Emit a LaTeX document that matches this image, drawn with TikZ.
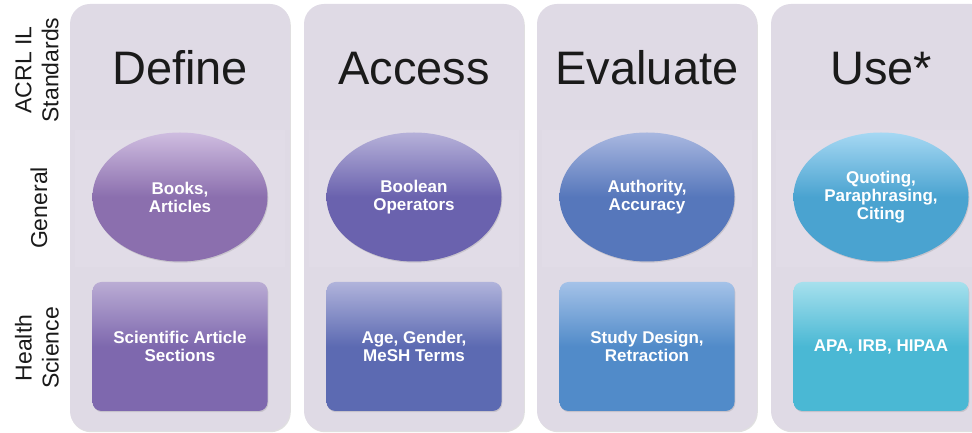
\documentclass[tikz,border=0pt]{standalone}
\usepackage{fontspec}
\setmainfont{Liberation Sans}
\usetikzlibrary{shapes.geometric,shadows}

% panel and item colours
\definecolor{panelbg}{HTML}{DFDAE5}
\definecolor{titleink}{HTML}{1A1A1A}
\definecolor{defEtop}{HTML}{CFBDE0}\definecolor{defEbot}{HTML}{8B6FAE}
\definecolor{defRtop}{HTML}{BAACD4}\definecolor{defRbot}{HTML}{7E68AE}
\definecolor{accEtop}{HTML}{B6B1D9}\definecolor{accEbot}{HTML}{6A62AE}
\definecolor{accRtop}{HTML}{B0B3DB}\definecolor{accRbot}{HTML}{5C6AB2}
\definecolor{evaEtop}{HTML}{A9B8E0}\definecolor{evaEbot}{HTML}{5677BB}
\definecolor{evaRtop}{HTML}{A4C2E8}\definecolor{evaRbot}{HTML}{518BC9}
\definecolor{useEtop}{HTML}{A6D8F3}\definecolor{useEbot}{HTML}{4AA3D0}
\definecolor{useRtop}{HTML}{A6E0ED}\definecolor{useRbot}{HTML}{4AB8D4}

\tikzset{
  softshadow/.style={drop shadow={shadow xshift=0.8pt,shadow yshift=-1.2pt,opacity=0.2,fill=black!60}},
  panel/.style={rectangle,rounded corners=20pt,fill=panelbg,minimum width=220pt,
    minimum height=427pt,inner sep=0pt,softshadow},
  glow/.style={rectangle,fill=white,fill opacity=0.08,minimum width=210pt,
    minimum height=137pt,inner sep=0pt},
  coltitle/.style={anchor=base,text=titleink,font=\fontsize{47}{50}\selectfont,inner sep=0pt},
  rowlabel/.style={rotate=90,align=center,text=titleink,font=\fontsize{23}{27}\selectfont,inner sep=0pt},
  item/.style={text=white,align=center,font=\bfseries\fontsize{17}{18}\selectfont,
    minimum width=175pt,minimum height=129pt,inner sep=0pt,softshadow},
  oval/.style n args={2}{item,ellipse,shading=axis,top color=#1,bottom color=#2,middle color=#2},
  card/.style n args={2}{item,rectangle,rounded corners=9pt,shading=axis,top color=#1,bottom color=#2,middle color=#2},
}

\begin{document}
\begin{tikzpicture}[x=1pt,y=1pt]
  \useasboundingbox (0,0) rectangle (972,433);
  \clip (0,0) rectangle (972,433);

  % columns
  \node[panel] (pdef) at (180,215.5) {};
  \node[panel] (pacc) at (414,215.5) {};
  \node[panel] (peva) at (647,215.5) {};
  \node[panel] (puse) at (881,215.5) {};

  % faint highlight behind the ovals
  \node[glow] (gdef) at (180,234.5) {};
  \node[glow] (gacc) at (414,234.5) {};
  \node[glow] (geva) at (647,234.5) {};
  \node[glow] (guse) at (881,234.5) {};

  % row labels
  \node[rowlabel] (lstd) at (37,363) {ACRL IL\\Standards};
  \node[rowlabel] (lgen) at (39,225) {General};
  \node[rowlabel] (lhs)  at (37,85)  {Health\\Science};

  % column titles
  \node[coltitle] (tdef) at (180,348) {Define};
  \node[coltitle] (tacc) at (414,348) {Access};
  \node[coltitle] (teva) at (647,348) {Evaluate};
  \node[coltitle] (tuse) at (881,348) {Use*};

  % general row
  \node[oval={defEtop}{defEbot}] (edef) at (180,236) {Books,\\Articles};
  \node[oval={accEtop}{accEbot}] (eacc) at (414,236) {Boolean\\Operators};
  \node[oval={evaEtop}{evaEbot}] (eeva) at (647,236) {Authority,\\Accuracy};
  \node[oval={useEtop}{useEbot}] (euse) at (881,236) {Quoting,\\Paraphrasing,\\Citing};

  % health science row
  \node[card={defRtop}{defRbot}] (rdef) at (180,86.5) {Scientific Article\\Sections};
  \node[card={accRtop}{accRbot}] (racc) at (414,86.5) {Age, Gender,\\MeSH Terms};
  \node[card={evaRtop}{evaRbot}] (reva) at (647,86.5) {Study Design,\\Retraction};
  \node[card={useRtop}{useRbot}] (ruse) at (881,86.5) {APA, IRB, HIPAA};
\end{tikzpicture}
\end{document}
